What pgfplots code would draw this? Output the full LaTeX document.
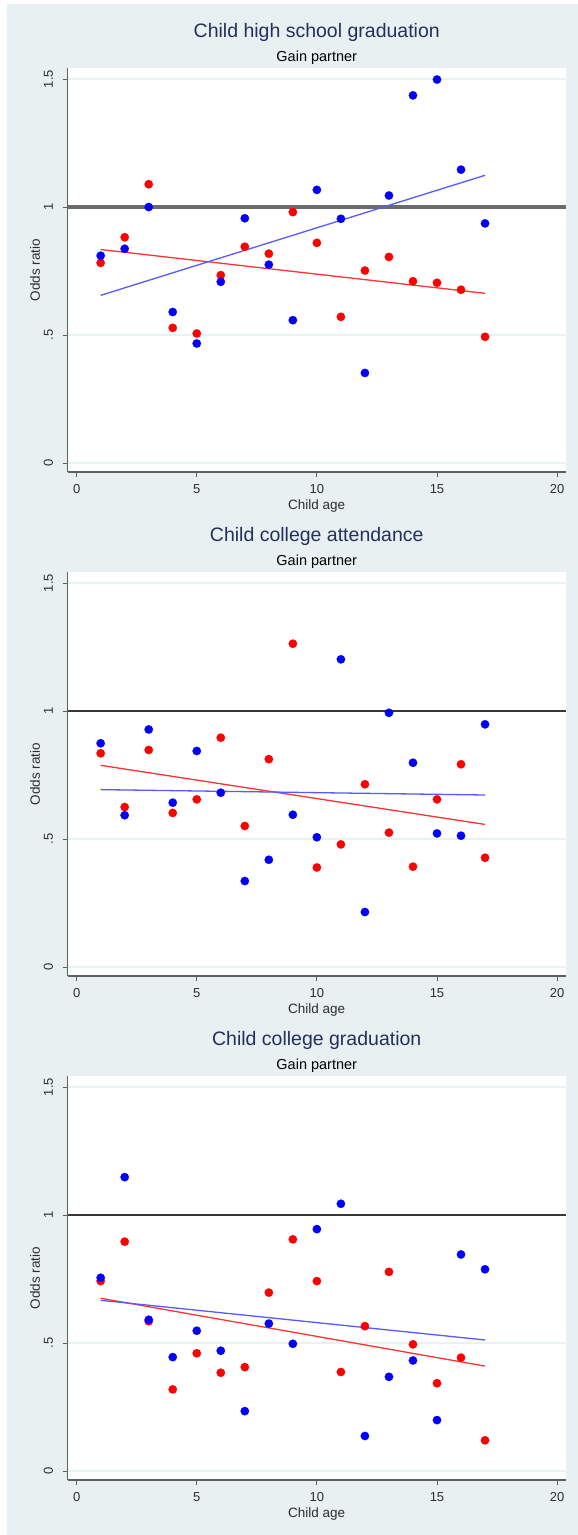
\documentclass[border=0pt]{standalone}
\usepackage{fontspec}
\setmainfont{Liberation Sans}
\usepackage{pgfplots}
\pgfplotsset{compat=1.18}
\definecolor{bgc}{RGB}{232,240,242}
\definecolor{gridc}{RGB}{234,241,243}
\definecolor{titlec}{RGB}{35,48,92}
\definecolor{axc}{RGB}{95,95,95}
\definecolor{txtc}{RGB}{45,45,45}
\definecolor{sred}{RGB}{255,0,0}
\definecolor{sblue}{RGB}{0,0,255}

\pgfplotsset{
 panel/.style={
  scale only axis, width=498.5pt, height=404pt,
  xmin=-0.38, xmax=20.37, ymin=-0.035, ymax=1.543,
  axis x line*=bottom, axis y line*=left,
  axis line style={axc, line width=1.1pt},
  axis background/.style={fill=white},
  xtick={0,5,10,15,20}, xticklabels={0,5,10,15,20},
  ytick={0,0.5,1,1.5}, yticklabels={0,.5,1,1.5},
  tick align=outside, major tick length=5pt,
  tick style={axc, line width=0.9pt},
  ymajorgrids, grid style={gridc, line width=1.2pt},
  xticklabel style={anchor=center, yshift=-12pt, font=\fontsize{13}{13}\selectfont, text=txtc},
  yticklabel style={xshift=-14pt, rotate=90, anchor=center, font=\fontsize{13}{13}\selectfont, text=txtc},
  xlabel={Child age}, ylabel={Odds ratio},
  every axis x label/.style={at={(axis description cs:0.5,0)}, yshift=-34pt, anchor=center, font=\fontsize{13.5}{13.5}\selectfont, text=txtc},
  every axis y label/.style={at={(axis description cs:0,0.5)}, xshift=-32.5pt, rotate=90, anchor=center, font=\fontsize{13.5}{13.5}\selectfont, text=txtc},
 },
 rmark/.style={color=sred, only marks, mark=*, mark size=4.2pt, mark options={draw=sred, fill=sred, line width=0.2pt}},
 bmark/.style={color=sblue, only marks, mark=*, mark size=4.2pt, mark options={draw=sblue, fill=sblue, line width=0.2pt}},
 rline/.style={no marks, sred!80, line width=1.3pt},
 bline/.style={no marks, sblue!65, line width=1.3pt},
}

\newcommand{\paneltitles}[2]{%
 \node[font=\fontsize{19.5}{19.5}\selectfont, text=titlec, anchor=center] at ([yshift=35.5pt]#1.north) {#2};
 \node[font=\fontsize{14.5}{14.5}\selectfont, text=black, anchor=center] at ([yshift=10pt]#1.north) {Gain partner};
}

\begin{document}
\begin{tikzpicture}
\fill[white] (0,0) rectangle (578pt,-1535pt);
\fill[bgc] (7pt,-4pt) rectangle (578pt,-1535pt);

% Panel 1
\begin{axis}[panel, name=p1, at={(67.5pt,-472pt)}, anchor=south west]
\addplot[line width=3.5pt, black!58] coordinates {(-0.38,1) (20.37,1)};
\addplot[rmark] coordinates {
(1,0.782) (2,0.882) (3,1.089) (4,0.528) (5,0.506) (6,0.734) (7,0.845) (8,0.818)
(9,0.980) (10,0.860) (11,0.571) (12,0.752) (13,0.805) (14,0.710) (15,0.704) (16,0.677) (17,0.493)};
\addplot[bmark] coordinates {
(1,0.810) (2,0.837) (3,1.000) (4,0.590) (5,0.467) (6,0.708) (7,0.956) (8,0.775)
(9,0.558) (10,1.067) (11,0.954) (12,0.352) (13,1.045) (14,1.436) (15,1.498) (16,1.146) (17,0.936)};
\addplot[rline] coordinates {(1,0.834) (17,0.663)};
\addplot[bline] coordinates {(1,0.655) (17,1.124)};
\end{axis}
\paneltitles{p1}{Child high school graduation}

% Panel 2
\begin{axis}[panel, name=p2, at={(67.5pt,-976pt)}, anchor=south west]
\addplot[line width=2.2pt, black!78] coordinates {(-0.38,1) (20.37,1)};
\addplot[rmark] coordinates {
(1,0.835) (2,0.625) (3,0.848) (4,0.602) (5,0.655) (6,0.896) (7,0.551) (8,0.812)
(9,1.263) (10,0.389) (11,0.479) (12,0.714) (13,0.525) (14,0.392) (15,0.655) (16,0.792) (17,0.427)};
\addplot[bmark] coordinates {
(1,0.874) (2,0.593) (3,0.928) (4,0.642) (5,0.844) (6,0.681) (7,0.336) (8,0.419)
(9,0.595) (10,0.507) (11,1.202) (12,0.215) (13,0.993) (14,0.798) (15,0.522) (16,0.513) (17,0.948)};
\addplot[rline] coordinates {(1,0.788) (17,0.557)};
\addplot[bline] coordinates {(1,0.693) (17,0.672)};
\end{axis}
\paneltitles{p2}{Child college attendance}

% Panel 3
\begin{axis}[panel, name=p3, at={(67.5pt,-1480pt)}, anchor=south west]
\addplot[line width=2.2pt, black!78] coordinates {(-0.38,1) (20.37,1)};
\addplot[rmark] coordinates {
(1,0.742) (2,0.896) (3,0.585) (4,0.319) (5,0.460) (6,0.384) (7,0.406) (8,0.697)
(9,0.905) (10,0.742) (11,0.387) (12,0.566) (13,0.778) (14,0.495) (15,0.343) (16,0.443) (17,0.120)};
\addplot[bmark] coordinates {
(1,0.755) (2,1.148) (3,0.591) (4,0.445) (5,0.548) (6,0.470) (7,0.234) (8,0.576)
(9,0.497) (10,0.945) (11,1.044) (12,0.137) (13,0.368) (14,0.432) (15,0.199) (16,0.846) (17,0.788)};
\addplot[rline] coordinates {(1,0.675) (17,0.410)};
\addplot[bline] coordinates {(1,0.667) (17,0.512)};
\end{axis}
\paneltitles{p3}{Child college graduation}

\pgfresetboundingbox
\useasboundingbox (0,0) rectangle (578pt,-1535pt);
\end{tikzpicture}
\end{document}
